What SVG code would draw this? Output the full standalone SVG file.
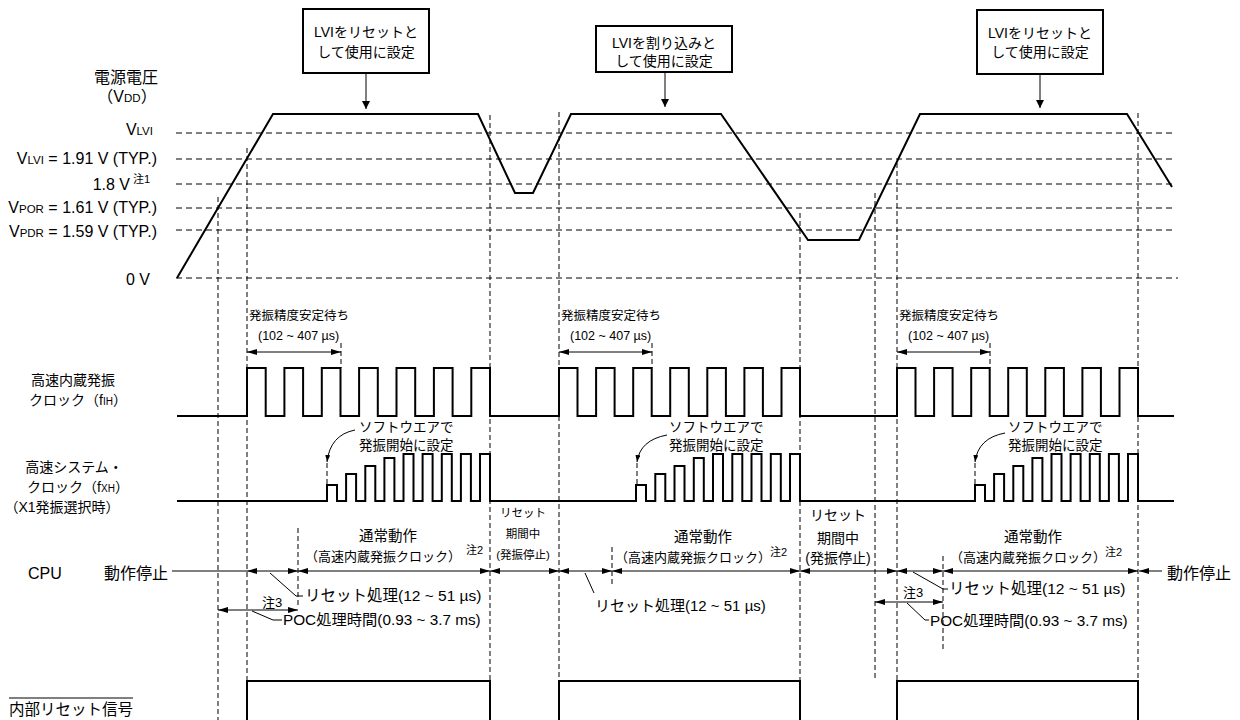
<svg xmlns="http://www.w3.org/2000/svg" width="1240" height="720" viewBox="0 0 1240 720">
<style>
text { font-family: "Liberation Sans", "Noto Sans CJK JP", sans-serif; fill: #000; }
.hd { stroke: #000; stroke-width: 1; stroke-dasharray: 6 4; fill: none; }
.vd { stroke: #000; stroke-width: 1; stroke-dasharray: 5 3; fill: none; }
.wave { stroke: #000; stroke-width: 2; fill: none; stroke-linejoin: miter; }
.thin { stroke: #000; stroke-width: 1; fill: none; }
.box { stroke: #000; stroke-width: 2; fill: #fff; }
.lbl { font-size: 16px; }
.clk { font-size: 14px; }
.note { font-size: 13.5px; }
.osc { font-size: 12.5px; }
</style>
<defs>
<marker id="ah" viewBox="0 0 10 6" refX="10" refY="3" markerWidth="10" markerHeight="6" markerUnits="userSpaceOnUse" orient="auto-start-reverse"><path d="M0,0 L10,3 L0,6 z" fill="#000"/></marker>
<marker id="ahb" viewBox="0 0 8 8" refX="8" refY="4" markerWidth="8" markerHeight="8" markerUnits="userSpaceOnUse" orient="auto"><path d="M0,0 L8,4 L0,8 z" fill="#000"/></marker>
<marker id="ahc" viewBox="0 0 7 5" refX="7" refY="2.5" markerWidth="7" markerHeight="5" markerUnits="userSpaceOnUse" orient="auto"><path d="M0,0 L7,2.5 L0,5 z" fill="#000"/></marker>
</defs>

<g id="grid">
<path class="hd" d="M176,133 H1175 M176,159 H1175 M176,184 H1175 M176,208 H1175 M176,230 H1175 M176,278 H1178"/>
<path class="vd" d="M218,197 V720 M247,148 V681 M490,115 V681 M559,112 V681 M800,213 V681 M875,193 V681 M897,163 V681 M1138,113 V681 M341,343 V368 M652,343 V368 M990,343 V368 M298,528 V608 M612,547 V585 M943,556 V650 M327,463 V485 M637,463 V485 M975,463 V485"/>
</g>

<g id="labels">
<text class="lbl" x="126" y="83" text-anchor="middle" font-size="15">電源電圧</text>
<text class="lbl" x="127" y="102" text-anchor="middle">（V<tspan font-size="11.5">DD</tspan>）</text>
<text class="lbl" x="153" y="135" text-anchor="end">V<tspan font-size="11.5">LVI</tspan></text>
<text class="lbl" x="157" y="164" text-anchor="end">V<tspan font-size="11.5">LVI</tspan> = 1.91 V (TYP.)</text>
<text class="lbl" x="130" y="190" text-anchor="end">1.8 V</text>
<text x="133" y="183" font-size="11">注1</text>
<text class="lbl" x="157" y="213" text-anchor="end">V<tspan font-size="11.5">POR</tspan> = 1.61 V (TYP.)</text>
<text class="lbl" x="157" y="237" text-anchor="end">V<tspan font-size="11.5">PDR</tspan> = 1.59 V (TYP.)</text>
<text class="lbl" x="150" y="285" text-anchor="end">0 V</text>
<text class="clk" x="73" y="385" text-anchor="middle">高速内蔵発振</text>
<text class="clk" x="78" y="405" text-anchor="middle">クロック（f<tspan font-size="10">IH</tspan>）</text>
<text class="clk" x="74" y="472" text-anchor="middle">高速システム・</text>
<text class="clk" x="78" y="492" text-anchor="middle">クロック（f<tspan font-size="10">XH</tspan>）</text>
<text class="clk" x="62" y="512" text-anchor="middle">（X1発振選択時）</text>
<text class="lbl" x="28" y="579">CPU</text>
<text class="lbl" x="104" y="579">動作停止</text>
<text x="9" y="715" font-size="15.5">内部リセット信号</text>
<path class="thin" d="M9,698 H133"/>
</g>

<g id="box1">
<rect class="box" x="303" y="9" width="126" height="64"/>
<text x="366" y="37" font-size="14" text-anchor="middle">LVIをリセットと</text>
<text x="366" y="57" font-size="14" text-anchor="middle">して使用に設定</text>
</g>
<g id="box2">
<rect class="box" x="596" y="26" width="136" height="46"/>
<text x="664" y="48" font-size="14" text-anchor="middle">LVIを割り込みと</text>
<text x="664" y="66" font-size="14" text-anchor="middle">して使用に設定</text>
</g>
<g id="box3">
<rect class="box" x="977" y="10" width="126" height="64"/>
<text x="1040" y="38" font-size="14" text-anchor="middle">LVIをリセットと</text>
<text x="1040" y="57" font-size="14" text-anchor="middle">して使用に設定</text>
</g>

<g id="vdd">
<polyline class="wave" points="177,278 273,114 478,114 515,193 533,193 571,114 721,114 808,240 859,240 920,114 1127,114 1172,187"/>
</g>

<g id="fih">
<path class="wave" d="M177,416 H247 V368 H265.7 V416 H284.4 V368 H303.1 V416 H321.8 V368 H340.5 V416 H359.1 V368 H377.8 V416 H396.5 V368 H415.2 V416 H433.9 V368 H452.6 V416 H471.3 V368 H490 V416 H559 V368 H577.5 V416 H596.1 V368 H614.6 V416 H633.2 V368 H651.7 V416 H670.2 V368 H688.8 V416 H707.3 V368 H725.9 V416 H744.4 V368 H762.9 V416 H781.5 V368 H800 V416 H897 V368 H915.5 V416 H934.1 V368 H952.6 V416 H971.2 V368 H989.7 V416 H1008.2 V368 H1026.8 V416 H1045.3 V368 H1063.9 V416 H1082.4 V368 H1100.9 V416 H1119.5 V368 H1138 V416 H1174"/>
<text class="osc" x="249" y="320">発振精度安定待ち</text>
<text class="osc" x="258" y="339.5">(102 ~ 407 µs)</text>
<text class="osc" x="561" y="320">発振精度安定待ち</text>
<text class="osc" x="570" y="339.5">(102 ~ 407 µs)</text>
<text class="osc" x="899" y="320">発振精度安定待ち</text>
<text class="osc" x="908" y="339.5">(102 ~ 407 µs)</text>
</g>

<g id="fxh">
<path class="wave" d="M177,501 H327 V485 H337 V501 H346.1 V474 H356.1 V501 H365.3 V466 H375.3 V501 H384.4 V458 H394.4 V501 H403.5 V454 H413.5 V501 H422.6 V454 H432.6 V501 H441.8 V454 H451.8 V501 H460.9 V454 H470.9 V501 H480 V454 H490 V501 H636 V485 H646 V501 H655.3 V474 H665.3 V501 H674.5 V466 H684.5 V501 H693.8 V458 H703.8 V501 H713 V454 H723 V501 H732.3 V454 H742.3 V501 H751.5 V454 H761.5 V501 H770.8 V454 H780.8 V501 H790 V454 H800 V501 H975 V485 H985 V501 H994.1 V474 H1004.1 V501 H1013.3 V466 H1023.3 V501 H1032.4 V458 H1042.4 V501 H1051.5 V454 H1061.5 V501 H1070.6 V454 H1080.6 V501 H1089.8 V454 H1099.8 V501 H1108.9 V454 H1118.9 V501 H1128 V454 H1138 V501 H1174"/>
<text class="note" x="359" y="432">ソフトウエアで</text>
<text class="note" x="359" y="450">発振開始に設定</text>
<text class="note" x="669" y="432">ソフトウエアで</text>
<text class="note" x="669" y="450">発振開始に設定</text>
<text class="note" x="1008" y="432">ソフトウエアで</text>
<text class="note" x="1008" y="450">発振開始に設定</text>
</g>

<g id="cpu">
<text x="388" y="541" font-size="14.5" text-anchor="middle">通常動作</text>
<text x="383" y="561" font-size="13" text-anchor="middle">（高速内蔵発振クロック）</text>
<text x="466" y="554" font-size="11">注2</text>
<text x="703" y="542" font-size="14.5" text-anchor="middle">通常動作</text>
<text x="693" y="562" font-size="13" text-anchor="middle">（高速内蔵発振クロック）</text>
<text x="770" y="556" font-size="11">注2</text>
<text x="1033" y="542" font-size="14.5" text-anchor="middle">通常動作</text>
<text x="1028" y="562" font-size="13" text-anchor="middle">（高速内蔵発振クロック）</text>
<text x="1105" y="556" font-size="11">注2</text>
<text x="523" y="517" font-size="11.5" text-anchor="middle">リセット</text>
<text x="523" y="538" font-size="11.5" text-anchor="middle">期間中</text>
<text x="523" y="559" font-size="11.5" text-anchor="middle">(発振停止)</text>
<text x="838" y="520" font-size="14" text-anchor="middle">リセット</text>
<text x="838" y="543" font-size="14" text-anchor="middle">期間中</text>
<text x="838" y="563" font-size="14" text-anchor="middle">(発振停止)</text>
<text x="262" y="607" font-size="13">注3</text>
<text x="903" y="597" font-size="13">注3</text>
<text x="305" y="601" font-size="15.5">リセット処理(12 ~ 51 µs)</text>
<text x="595" y="611" font-size="15">リセット処理(12 ~ 51 µs)</text>
<text x="949" y="594" font-size="15.5">リセット処理(12 ~ 51 µs)</text>
<text x="283" y="625" font-size="15.3">POC処理時間(0.93 ~ 3.7 ms)</text>
<text x="930" y="626" font-size="15.3">POC処理時間(0.93 ~ 3.7 ms)</text>
<text class="lbl" x="1167" y="579">動作停止</text>
</g>

<g id="reset">
<path class="wave" d="M247,720 V681 H490 V720 M559,720 V681 H800 V720 M897,720 V681 H1138 V720"/>
</g>

<g id="connectors">
<path class="thin" d="M366,73 V109" marker-end="url(#ahb)"/>
<path class="thin" d="M665,72 V107" marker-end="url(#ahb)"/>
<path class="thin" d="M1040,74 V108" marker-end="url(#ahb)"/>
<path class="thin" d="M247,352 H341" marker-start="url(#ah)" marker-end="url(#ah)"/>
<path class="thin" d="M559,352 H652" marker-start="url(#ah)" marker-end="url(#ah)"/>
<path class="thin" d="M897,352 H990" marker-start="url(#ah)" marker-end="url(#ah)"/>
<path class="thin" d="M355,430 Q330,435 327,462" marker-end="url(#ahc)"/>
<path class="thin" d="M667,435 Q640,440 637,462" marker-end="url(#ahc)"/>
<path class="thin" d="M1005,433 Q978,438 975,462" marker-end="url(#ahc)"/>
<path class="thin" d="M172,571 H247"/>
<path class="thin" d="M247,571 H298" marker-start="url(#ah)" marker-end="url(#ah)"/>
<path class="thin" d="M298,571 H490" marker-start="url(#ah)" marker-end="url(#ah)"/>
<path class="thin" d="M490,571 H559" marker-start="url(#ah)" marker-end="url(#ah)"/>
<path class="thin" d="M559,571 H612" marker-start="url(#ah)" marker-end="url(#ah)"/>
<path class="thin" d="M612,571 H800" marker-start="url(#ah)" marker-end="url(#ah)"/>
<path class="thin" d="M800,571 H897" marker-start="url(#ah)" marker-end="url(#ah)"/>
<path class="thin" d="M897,571 H943" marker-start="url(#ah)" marker-end="url(#ah)"/>
<path class="thin" d="M943,571 H1138" marker-start="url(#ah)" marker-end="url(#ah)"/>
<path class="thin" d="M1139,571 H1162" marker-start="url(#ah)"/>
<path class="thin" d="M218,610 H298" marker-start="url(#ah)" marker-end="url(#ah)"/>
<path class="thin" d="M875,602 H943" marker-start="url(#ah)" marker-end="url(#ah)"/>
<path class="thin" d="M270,573 L296,596 H303"/>
<path class="thin" d="M252,611 L273,620 H282"/>
<path class="thin" d="M585,573 L594,593"/>
<path class="thin" d="M913,572 L943,589 H948"/>
<path class="thin" d="M907,603 L925,620 H929"/>
</g>
</svg>
